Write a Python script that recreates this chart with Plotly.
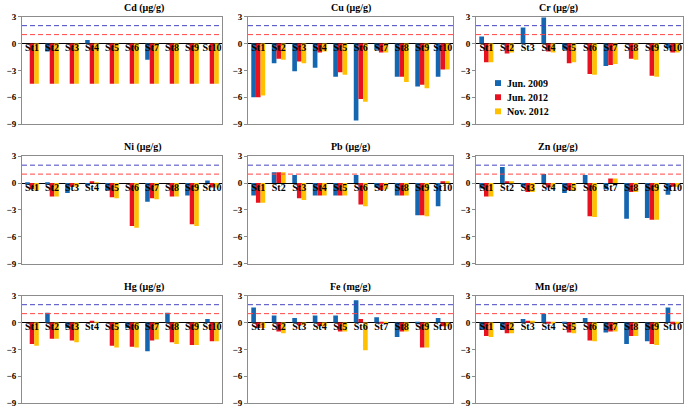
import plotly.graph_objects as go
from plotly.subplots import make_subplots

stations = ["St1", "St2", "St3", "St4", "St5", "St6", "St7", "St8", "St9", "St10"]
series_names = ["Jun. 2009", "Jun. 2012", "Nov. 2012"]
titles = ["Cd (μg/g)", "Cu (μg/g)", "Cr (μg/g)",
          "Ni (μg/g)", "Pb (μg/g)", "Zn (μg/g)",
          "Hg (μg/g)", "Fe (mg/g)", "Mn (μg/g)"]

cd_2009 = [0, -0.9, 0, 0.4, 0, 0, -1.8, 0, 0, 0]
cd_2012j = [-4.5, -4.5, -4.5, -4.5, -4.5, -4.5, -4.5, -4.5, -4.5, -4.5]
cd_2012n = [-4.5, -4.5, -4.5, -4.5, -4.5, -4.5, -4.5, -4.5, -4.5, -4.5]

cu_2009 = [-6.0, -2.2, -3.1, -2.7, -3.7, -8.6, -0.7, -3.7, -4.8, -3.7]
cu_2012j = [-6.0, -1.7, -2.0, -1.0, -3.2, -6.2, -1.0, -3.7, -4.6, -2.9]
cu_2012n = [-5.8, -1.8, -2.2, -0.9, -3.5, -6.5, -1.0, -4.3, -5.0, -2.9]

cr_2009 = [0.8, 0, 1.8, 2.9, -0.7, 0, -2.5, 0, 0, -0.5]
cr_2012j = [-2.1, -1.1, 0, -0.9, -2.2, -3.4, -2.4, -1.7, -3.6, -1.0]
cr_2012n = [-2.1, -1.0, 0, -1.0, -2.1, -3.5, -2.3, -1.8, -3.7, -1.0]

ni_2009 = [-0.2, -0.2, -1.1, -0.3, -0.8, 0, -2.1, 0, -1.4, 0.3]
ni_2012j = [-0.7, -1.5, -0.4, 0.1, -1.6, -4.8, -1.7, -1.5, -4.6, -0.5]
ni_2012n = [-0.8, -1.5, -0.4, 0.05, -1.7, -5.0, -1.8, -1.5, -4.8, -0.5]

pb_2009 = [-1.4, 1.2, 0.9, -1.4, -1.4, 0.9, -0.5, -1.4, -3.6, -2.6]
pb_2012j = [-2.2, 1.2, -1.7, -1.4, -1.4, -2.4, -0.8, -1.4, -3.6, 0.15]
pb_2012n = [-2.2, 1.2, -1.9, -1.4, -1.4, -2.6, -0.7, -1.4, -3.7, 0.1]

zn_2009 = [-0.6, 1.8, -0.4, 1.0, -1.1, 0.9, -0.7, -4.0, -3.9, -1.3]
zn_2012j = [-1.5, 0.2, -1.0, -0.5, -0.8, -3.7, 0.5, -1.0, -4.1, -0.4]
zn_2012n = [-1.5, 0.2, -1.0, -0.5, -0.9, -3.8, 0.5, -1.0, -4.1, -0.4]

hg_2009 = [0, 1.1, -0.6, 0, 0, -0.6, -3.2, 1.1, 0, 0.4]
hg_2012j = [-2.4, -1.8, -2.0, 0.2, -2.6, -2.7, -2.0, -2.2, -2.5, -2.1]
hg_2012n = [-2.6, -1.8, -2.2, 0.05, -2.8, -2.8, -1.9, -2.4, -2.5, -2.1]

fe_2009 = [1.7, 0.8, 0.5, 0.8, 0.8, 2.5, 0.6, -1.6, -0.2, 0.5]
fe_2012j = [-0.6, -1.0, -0.3, -0.4, -1.0, 0.4, -0.1, -1.0, -2.8, -0.4]
fe_2012n = [-0.6, -1.2, -0.3, -0.4, -1.0, -3.1, -0.1, -1.0, -2.8, -0.4]

mn_2009 = [-0.8, -0.8, 0.4, 1.0, -0.1, 0.5, -1.1, -2.4, -2.1, 1.7]
mn_2012j = [-1.5, -1.2, 0.2, -0.1, -1.1, -2.0, -1.0, -1.5, -2.4, -0.2]
mn_2012n = [-1.6, -1.2, 0.2, -0.1, -1.2, -2.1, -1.0, -1.5, -2.5, -0.2]

y_ticks = [3, 0, -3, -6, -9]
ref_lines = [2, 1]

panels = [
    (cd_2009, cd_2012j, cd_2012n), (cu_2009, cu_2012j, cu_2012n), (cr_2009, cr_2012j, cr_2012n),
    (ni_2009, ni_2012j, ni_2012n), (pb_2009, pb_2012j, pb_2012n), (zn_2009, zn_2012j, zn_2012n),
    (hg_2009, hg_2012j, hg_2012n), (fe_2009, fe_2012j, fe_2012n), (mn_2009, mn_2012j, mn_2012n),
]

colors = ["#1466B0", "#E8111F", "#FFC000"]
ref_colors = ["#4545C0", "#FF4545"]
FONT = "Liberation Serif"
W, H = 685, 411

fig = make_subplots(rows=3, cols=3, horizontal_spacing=0.04, vertical_spacing=0.08)

# pixel positions of plot areas
x_px = [(22, 222), (248, 453), (476, 683)]
y_px = [(12, 122), (155, 265), (298, 408)]
x_domains = [[a / W, b / W] for a, b in x_px]
y_domains = [[1 - b / H, 1 - a / H] for a, b in y_px]

for idx, vals in enumerate(panels):
    r, c = idx // 3 + 1, idx % 3 + 1
    for s in range(3):
        fig.add_trace(go.Bar(x=stations, y=vals[s], marker_color=colors[s],
                             marker_line_width=0, showlegend=False, name=series_names[s]),
                      row=r, col=c)
    fig.add_trace(go.Scatter(x=stations, y=[0] * len(stations), mode="text",
                             text=stations, textposition="bottom center",
                             textfont=dict(family=FONT, size=10, color="black", weight="bold"),
                             showlegend=False, hoverinfo="skip"), row=r, col=c)
    for lv, lc in zip(ref_lines, ref_colors):
        fig.add_hline(y=lv, line=dict(color=lc, width=1, dash="5px,3px"), row=r, col=c)
    n = "" if idx == 0 else str(idx + 1)
    fig.layout["xaxis" + n].update(domain=x_domains[c - 1], showticklabels=False, ticks="",
                                   showline=True, linecolor="#8c8c8c", linewidth=1, mirror=True,
                                   showgrid=False, range=[-0.5, 9.5])
    fig.layout["yaxis" + n].update(domain=y_domains[r - 1], range=[-9, 3], tickvals=y_ticks,
                                   ticks="outside", ticklen=3, tickcolor="#8c8c8c",
                                   showline=True, linecolor="#8c8c8c", linewidth=1, mirror=True,
                                   showgrid=False, zeroline=True, zerolinecolor="black",
                                   zerolinewidth=1,
                                   tickfont=dict(family=FONT, size=9, color="black", weight="bold"))
    xd = x_domains[c - 1]
    fig.add_annotation(x=(xd[0] + xd[1]) / 2, y=y_domains[r - 1][1], xref="paper", yref="paper",
                       text=titles[idx], showarrow=False, yanchor="bottom", yshift=1,
                       font=dict(family=FONT, size=10, color="black", weight="bold"))

# legend (inside the Cr panel)
leg_x = 498 / W
for s in range(3):
    yc = 1 - (80 + 14.5 * s) / H
    fig.add_shape(type="rect", xref="paper", yref="paper",
                  x0=leg_x - 3 / W, x1=leg_x + 3 / W, y0=yc - 3 / H, y1=yc + 3 / H,
                  fillcolor=colors[s], line_width=0)
    fig.add_annotation(x=leg_x + 7 / W, y=yc, xref="paper", yref="paper", text=series_names[s],
                       showarrow=False, xanchor="left", yanchor="middle",
                       font=dict(family=FONT, size=10, color="black", weight="bold"))

fig.update_layout(
    width=W, height=H, margin=dict(l=0, r=0, t=0, b=0),
    plot_bgcolor="white", paper_bgcolor="white",
    barmode="group", bargap=0.32, bargroupgap=0,
    showlegend=False,
)

fig.write_html("out.html", config={"displayModeBar": False},
               post_script="document.body.style.margin='0';")
